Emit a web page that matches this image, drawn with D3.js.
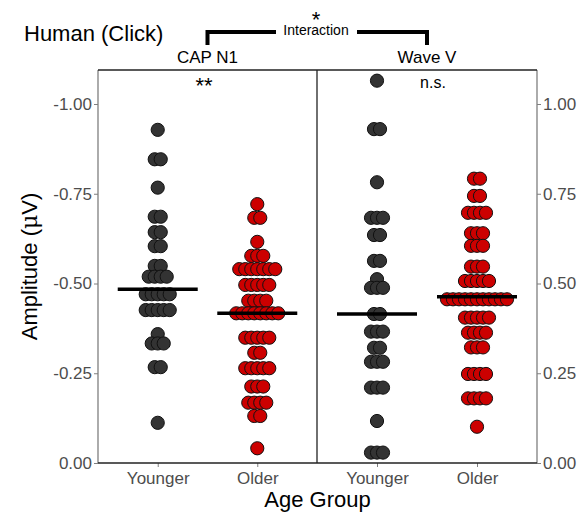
<!DOCTYPE html>
<html>
<head>
<meta charset="utf-8">
<script src="https://cdn.jsdelivr.net/npm/d3@7"></script>
<style>
  body { margin: 0; background: white; }
  svg text { font-family: "Liberation Sans", Arial, sans-serif; }
</style>
</head>
<body>
<svg id="chart" width="584" height="512"></svg>
<script>

// categories
var groups = ["Younger", "Older"];
var panels = ["CAP N1", "Wave V"];

// CAP N1 amplitudes (uV)
var capYounger = [-0.928, -0.846, -0.846, -0.767, -0.686, -0.686, -0.643, -0.643, -0.604, -0.604,
  -0.549, -0.549, -0.519, -0.519, -0.519, -0.519, -0.470, -0.470, -0.470, -0.470, -0.470,
  -0.426, -0.426, -0.426, -0.426, -0.426, -0.359, -0.333, -0.333, -0.333, -0.267, -0.267, -0.112];
var capOlder = [-0.721, -0.683, -0.683, -0.616, -0.577, -0.577, -0.577,
  -0.540, -0.540, -0.540, -0.540, -0.540, -0.540, -0.540,
  -0.496, -0.496, -0.496, -0.496, -0.496, -0.452, -0.452, -0.452, -0.452,
  -0.417, -0.417, -0.417, -0.417, -0.417, -0.417, -0.417, -0.417,
  -0.349, -0.349, -0.349, -0.349, -0.349, -0.307, -0.307,
  -0.264, -0.264, -0.264, -0.264, -0.264, -0.213, -0.213, -0.213,
  -0.168, -0.168, -0.168, -0.168, -0.131, -0.131, -0.041];

// Wave V amplitudes (uV)
var waveYounger = [1.065, 0.930, 0.930, 0.782, 0.683, 0.683, 0.683, 0.635, 0.635, 0.563, 0.563,
  0.512, 0.488, 0.488, 0.488, 0.415, 0.415, 0.366, 0.366, 0.366, 0.321, 0.321,
  0.282, 0.282, 0.282, 0.210, 0.210, 0.210, 0.117, 0.029, 0.029, 0.029];
var waveOlder = [0.792, 0.792, 0.744, 0.744, 0.697, 0.697, 0.697, 0.697, 0.640, 0.640, 0.640,
  0.605, 0.605, 0.605, 0.547, 0.547, 0.547, 0.507, 0.507, 0.507, 0.507, 0.507,
  0.456, 0.456, 0.456, 0.456, 0.456, 0.456, 0.456, 0.456, 0.456, 0.456, 0.456,
  0.405, 0.405, 0.405, 0.405, 0.405, 0.363, 0.363, 0.363, 0.363, 0.322, 0.322, 0.322,
  0.248, 0.248, 0.248, 0.248, 0.180, 0.180, 0.180, 0.180, 0.101];

// group summary lines (Younger, Older)
var capLines = [-0.484, -0.417];
var waveLines = [0.415, 0.463];

// tick labels
var leftTicks = [0, -0.25, -0.5, -0.75, -1];
var leftTickLabels = ["0.00", "-0.25", "-0.50", "-0.75", "-1.00"];
var rightTicks = [0, 0.25, 0.5, 0.75, 1];
var rightTickLabels = ["0.00", "0.25", "0.50", "0.75", "1.00"];

var svg = d3.select("#chart");

var plotTop = 70, plotBottom = 463;
var plotLeft = 98, plotMid = 317, plotRight = 537;

var yLeft = d3.scaleLinear().domain([0, -1]).range([plotBottom, 104]);
var yRight = d3.scaleLinear().domain([0, 1]).range([plotBottom, 104]);

var xLeft = d3.scalePoint().domain(groups).range([plotLeft, plotMid]).padding(0.6);
var xRight = d3.scalePoint().domain(groups).range([plotMid, plotRight]).padding(0.6);

var colors = { Younger: "#333333", Older: "#cc0000" };
var dotR = 6.6, dotStep = 6;

// beeswarm-ish: equal values share a row, centred around the group
function drawDots(g, values, group, x, y) {
  var rows = d3.groups(values, function(d) { return d; });
  var pts = [];
  rows.forEach(function(r) {
    var n = r[1].length;
    r[1].forEach(function(v, i) {
      pts.push({ v: v, off: (i - (n - 1) / 2) * dotStep });
    });
  });
  g.selectAll("circle." + group).data(pts).enter().append("circle")
    .attr("class", group)
    .attr("cx", function(d) { return x(group) + d.off; })
    .attr("cy", function(d) { return y(d.v); })
    .attr("r", dotR)
    .attr("fill", colors[group])
    .attr("stroke", "#111")
    .attr("stroke-width", 1);
}

function drawLines(g, lines, x, y) {
  g.selectAll("line.mean").data(lines).enter().append("line")
    .attr("class", "mean")
    .attr("x1", function(d, i) { return x(groups[i]) - 40; })
    .attr("x2", function(d, i) { return x(groups[i]) + 40; })
    .attr("y1", function(d) { return y(d); })
    .attr("y2", function(d) { return y(d); })
    .attr("stroke", "black")
    .attr("stroke-width", 3.5);
}

var gLeft = svg.append("g");
drawDots(gLeft, capYounger, "Younger", xLeft, yLeft);
drawDots(gLeft, capOlder, "Older", xLeft, yLeft);
drawLines(gLeft, capLines, xLeft, yLeft);

var gRight = svg.append("g");
drawDots(gRight, waveYounger, "Younger", xRight, yRight);
drawDots(gRight, waveOlder, "Older", xRight, yRight);
drawLines(gRight, waveLines, xRight, yRight);

// axes
var axL = svg.append("g").attr("transform", "translate(" + plotLeft + ",0)")
  .call(d3.axisLeft(yLeft).tickValues(leftTicks).tickSize(4).tickPadding(2)
    .tickFormat(function(d, i) { return leftTickLabels[i]; }));
var axR = svg.append("g").attr("transform", "translate(" + plotRight + ",0)")
  .call(d3.axisRight(yRight).tickValues(rightTicks).tickSize(4).tickPadding(2)
    .tickFormat(function(d, i) { return rightTickLabels[i]; }));
var axB1 = svg.append("g").attr("transform", "translate(0," + plotBottom + ")")
  .call(d3.axisBottom(xLeft).tickSize(4).tickPadding(5));
var axB2 = svg.append("g").attr("transform", "translate(0," + plotBottom + ")")
  .call(d3.axisBottom(xRight).tickSize(4).tickPadding(5));

[axL, axR, axB1, axB2].forEach(function(a) {
  a.select(".domain").remove();
  a.selectAll(".tick line").attr("stroke", "#7f7f7f");
  a.selectAll(".tick text")
    .attr("font-size", "17px")
    .attr("fill", "#4d4d4d")
    .style("font-family", "'Liberation Sans', Arial, sans-serif");
});

// frame
svg.append("line").attr("x1", plotLeft).attr("x2", plotLeft).attr("y1", plotTop).attr("y2", plotBottom)
  .attr("stroke", "#7f7f7f").attr("stroke-width", 1.3);
svg.append("line").attr("x1", plotRight).attr("x2", plotRight).attr("y1", plotTop).attr("y2", plotBottom)
  .attr("stroke", "#7f7f7f").attr("stroke-width", 1.3);
svg.append("line").attr("x1", plotLeft).attr("x2", plotRight).attr("y1", plotTop).attr("y2", plotTop)
  .attr("stroke", "#222").attr("stroke-width", 1.3);
svg.append("line").attr("x1", plotLeft).attr("x2", plotRight).attr("y1", plotBottom).attr("y2", plotBottom)
  .attr("stroke", "#222").attr("stroke-width", 1.3);
svg.append("line").attr("x1", plotMid).attr("x2", plotMid).attr("y1", plotTop).attr("y2", plotBottom)
  .attr("stroke", "#222").attr("stroke-width", 1.3);

// panel labels
var cLeft = (plotLeft + plotMid) / 2, cRight = (plotMid + plotRight) / 2;
svg.append("text").text(panels[0]).attr("x", cLeft).attr("y", 63)
  .attr("text-anchor", "middle").attr("font-size", "17px");
svg.append("text").text(panels[1]).attr("x", cRight).attr("y", 63)
  .attr("text-anchor", "middle").attr("font-size", "17px");

// significance marks
svg.append("text").text("**").attr("x", 204).attr("y", 93)
  .attr("text-anchor", "middle").attr("font-size", "22px");
svg.append("text").text("n.s.").attr("x", 433).attr("y", 88)
  .attr("text-anchor", "middle").attr("font-size", "16px");

// interaction bracket
svg.append("path")
  .attr("d", "M" + cLeft + ",45 V32 H276 M357,32 H" + cRight + " V45")
  .attr("fill", "none").attr("stroke", "black").attr("stroke-width", 4);
svg.append("text").text("Interaction").attr("x", 316).attr("y", 35)
  .attr("text-anchor", "middle").attr("font-size", "14px");
svg.append("text").text("*").attr("x", 316).attr("y", 27)
  .attr("text-anchor", "middle").attr("font-size", "22px");

// title
svg.append("text").text("Human (Click)").attr("x", 24).attr("y", 41)
  .attr("font-size", "22px");

// axis titles
svg.append("text").text("Age Group").attr("x", (plotLeft + plotRight) / 2).attr("y", 507)
  .attr("text-anchor", "middle").attr("font-size", "22px");
var yt = svg.append("text")
  .attr("transform", "translate(37," + ((plotTop + plotBottom) / 2) + ") rotate(-90)")
  .attr("text-anchor", "middle").attr("font-size", "22px");
yt.append("tspan").text("Amplitude (");
yt.append("tspan").text("\u03bc").style("font-family", "'DejaVu Serif', serif");
yt.append("tspan").text("V)");

</script>
</body>
</html>
